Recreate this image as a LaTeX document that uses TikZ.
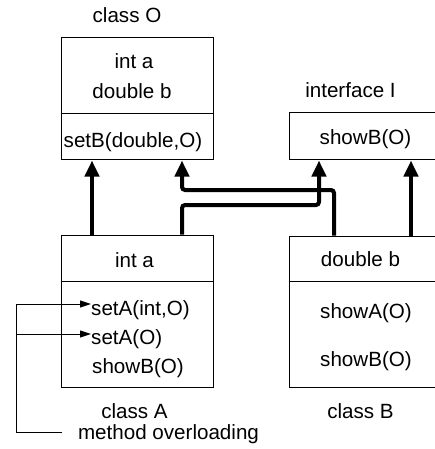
\documentclass[tikz,border=0pt]{standalone}
\usepackage{fontspec}
\setmainfont{Liberation Sans}
\usetikzlibrary{arrows.meta}
\begin{document}
\begin{tikzpicture}[x=1pt,y=-1pt,
  box/.style={draw=black,line width=1pt,rectangle,inner sep=0pt},
  lbl/.style={anchor=base,inner sep=0pt,font=\fontsize{20.6}{24}\selectfont},
  inh/.style={line width=4pt,rounded corners=3pt,-{Triangle[length=16pt,width=14pt]}},
  thinline/.style={line width=1pt},
  ovl/.style={line width=1pt,-{Triangle[length=11pt,width=7pt]}}]
\clip (0,0) rectangle (435,449);

% class boxes
\node[box,minimum width=152pt,minimum height=122pt] (O) at (137,99) {};
\node[box,minimum width=152pt,minimum height=152pt] (A) at (137,311) {};
\node[box,minimum width=156pt,minimum height=47pt] (I) at (367,136.5) {};
\node[box,minimum width=156pt,minimum height=151pt] (B) at (367,311.5) {};

% compartment separators
\draw[thinline] (O.west |- 0,114) -- (O.east |- 0,114);
\draw[thinline] (A.west |- 0,281) -- (A.east |- 0,281);
\draw[thinline] (B.west |- 0,281) -- (B.east |- 0,281);

% class O
\node[lbl] (tO) at (127,23) {class O};
\node[lbl] (Oa) at (134,69) {int a};
\node[lbl] (Ob) at (132,99) {double b};
\node[lbl] (Om) at (133,147) {setB(double,O)};

% interface I
\node[lbl] (tI) at (350.5,98) {interface I};
\node[lbl] (Im) at (365.5,145) {showB(O)};

% class A
\node[lbl] (Aa) at (134.5,267) {int a};
\node[lbl,anchor=base west] (setAi) at (91,315) {setA(int,O)};
\node[lbl,anchor=base west] (setAo) at (91,344) {setA(O)};
\node[lbl] (Ash) at (138,373) {showB(O)};
\node[lbl] (tA) at (134.5,418) {class A};
\node[lbl] (mo) at (168.5,439) {method overloading};

% class B
\node[lbl] (Bb) at (360.5,266) {double b};
\node[lbl] (Bsa) at (366,318) {showA(O)};
\node[lbl] (Bsb) at (366,366) {showB(O)};
\node[lbl] (tB) at (360.5,418) {class B};

% inheritance / realization connectors
\draw[inh] (A.north -| 92,0) -- (O.south -| 92,0);
\draw[inh] (A.north -| 182,0) -- (182,205) -- (319,205) -- (I.south -| 319,0);
\draw[inh] (B.north -| 334,0) -- (334,190) -- (182,190) -- (O.south -| 182,0);
\draw[inh] (B.north -| 411,0) -- (I.south -| 411,0);

% overloading bracket
\coordinate (r1) at (16,304);
\coordinate (r2) at (16,334);
\coordinate (r3) at (16,432);
\coordinate (ovlend) at (62,432);
\draw[thinline] (ovlend) -- (r3) -- (r1);
\draw[ovl] (r1) -- (r1 -| setAi.west);
\draw[ovl] (r2) -- (r2 -| setAo.west);
\end{tikzpicture}
\end{document}
